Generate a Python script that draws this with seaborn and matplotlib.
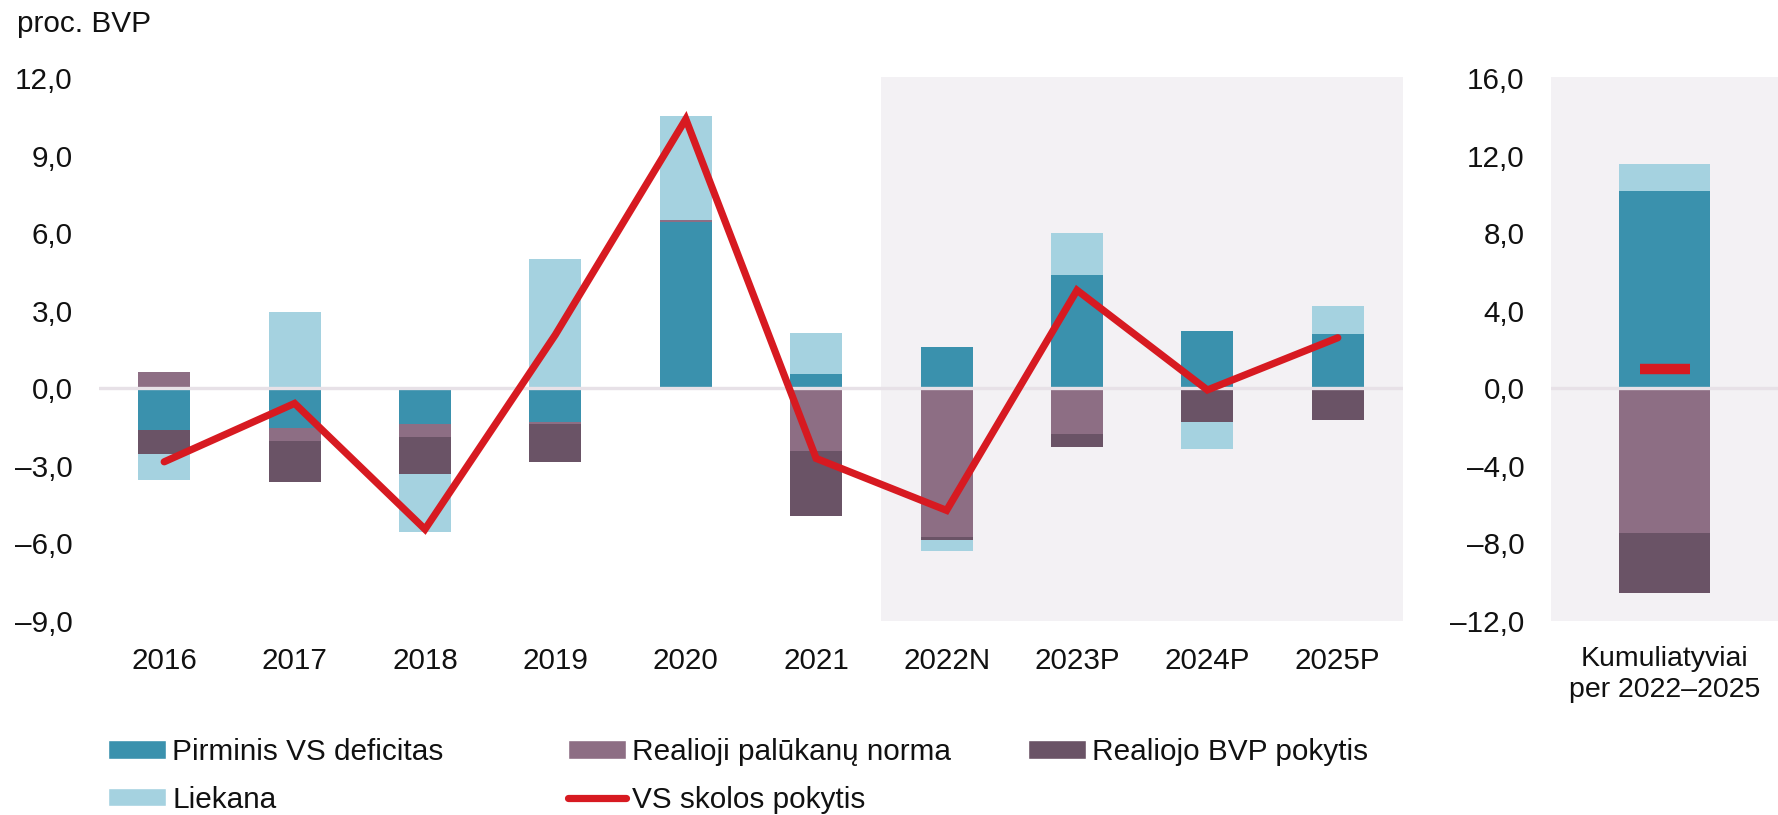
import numpy as np
import matplotlib
matplotlib.use("Agg")
import matplotlib.pyplot as plt
from matplotlib.ticker import FixedLocator, FuncFormatter
from matplotlib.patches import Patch
from matplotlib.lines import Line2D
import seaborn as sns

# ---------------- data ----------------
categories = ['2016', '2017', '2018', '2019', '2020', '2021', '2022N', '2023P', '2024P', '2025P']
primary_deficit = [-1.60, -1.52, -1.38, -1.31, 6.44, 0.54, 1.60, 4.37, 2.22, 2.09]
real_interest = [0.62, -0.50, -0.51, -0.08, 0.06, -2.42, -5.76, -1.78, 0.0, 0.0]
real_gdp_growth = [-0.95, -1.59, -1.43, -1.45, 0.0, -2.50, -0.12, -0.49, -1.31, -1.24]
residual = [-0.98, 2.96, -2.22, 4.99, 4.04, 1.61, -0.41, 1.66, -1.03, 1.11]
debt_change = [-2.84, -0.58, -5.45, 2.08, 10.42, -2.71, -4.72, 3.80, -0.06, 1.96]

cum_category = ['Kumuliatyviai\nper 2022–2025']
cum_primary = [10.17]
cum_interest = [-7.47]
cum_growth = [-3.09]
cum_residual = [1.37]
cum_debt = [0.98]

left_ticks = [-9, -6, -3, 0, 3, 6, 9, 12]
right_ticks = [-12, -8, -4, 0, 4, 8, 12, 16]

labels = ['Pirminis VS deficitas', 'Realioji palūkanų norma', 'Realiojo BVP pokytis',
          'Liekana', 'VS skolos pokytis']

# ---------------- style ----------------
C_TEAL = '#3A91AD'
C_PURPLE = '#8D6E84'
C_DARK = '#6A5366'
C_LIGHT = '#A5D2E0'
C_RED = '#D71A21'
C_SHADE = '#F3F1F4'
C_ZERO = '#E7E1E7'

sns.set_theme(style='white')
plt.rcParams['font.family'] = ['Liberation Sans', 'DejaVu Sans']
FS = 21.3
FS_LEG = 21.4

W, H = 1778, 815
fig = plt.figure(figsize=(W / 100, H / 100), dpi=100)
ax = fig.add_axes([99 / W, 1 - 621 / H, (1403 - 99) / W, (621 - 77) / H])
axr = fig.add_axes([1551 / W, 1 - 621 / H, (1778 - 1551) / W, (621 - 77) / H])


def stacked(axis, cats, series, colors, width):
    pos_base = np.zeros(len(cats))
    neg_base = np.zeros(len(cats))
    for vals, col in zip(series, colors):
        v = np.asarray(vals, dtype=float)
        bottom = np.where(v >= 0, pos_base, neg_base)
        sns.barplot(x=cats, y=v, bottom=bottom, color=col, width=width,
                    saturation=1, linewidth=0, order=cats, ax=axis, zorder=2)
        pos_base = pos_base + np.where(v > 0, v, 0)
        neg_base = neg_base + np.where(v < 0, v, 0)


fmt = FuncFormatter(lambda v, p: f"{v:.1f}".replace('.', ',').replace('-', '–'))

# ---------- left panel ----------
stacked(ax, categories,
        [primary_deficit, real_interest, real_gdp_growth, residual],
        [C_TEAL, C_PURPLE, C_DARK, C_LIGHT], 0.40)
ax.axvspan(5.5, 9.5, color=C_SHADE, zorder=0, lw=0)
ax.axhline(0, color=C_ZERO, lw=2.4, zorder=3)
sns.lineplot(x=np.arange(len(categories)), y=debt_change, color=C_RED, lw=5.2,
             ax=ax, zorder=4, solid_capstyle='round', solid_joinstyle='miter', sort=False)
ax.set_xlim(-0.5, 9.5)
ax.set_ylim(-9, 12.05)
ax.yaxis.set_major_locator(FixedLocator(left_ticks))
ax.yaxis.set_major_formatter(fmt)

# ---------- right panel ----------
axr.set_facecolor(C_SHADE)
stacked(axr, cum_category,
        [cum_primary, cum_interest, cum_growth, cum_residual],
        [C_TEAL, C_PURPLE, C_DARK, C_LIGHT], 0.405)
axr.axhline(0, color=C_ZERO, lw=2.4, zorder=3)
sns.scatterplot(x=[0], y=cum_debt, marker='_', s=36 ** 2, linewidth=7.5,
                color=C_RED, ax=axr, zorder=4)
axr.set_xlim(-0.5, 0.5)
axr.set_ylim(-12, 16.05)
axr.yaxis.set_major_locator(FixedLocator(right_ticks))
axr.yaxis.set_major_formatter(fmt)

for a in (ax, axr):
    for s in a.spines.values():
        s.set_visible(False)
    a.set_xlabel('')
    a.set_ylabel('')
    a.tick_params(axis='y', length=0, pad=19, labelsize=FS, colors='#111111')
    a.tick_params(axis='x', length=0, pad=19, labelsize=FS, colors='#111111')
    a.grid(False)
axr.tick_params(axis='x', labelsize=20.5, pad=18)
for t in axr.get_xticklabels():
    t.set_linespacing(1.25)
ax.set_facecolor('white')

fig.text(17 / W, 1 - 10 / H, 'proc. BVP', fontsize=FS_LEG, va='top', ha='left', color='#111111')

# ---------- legend ----------
handles = [Patch(facecolor=C_TEAL), Patch(facecolor=C_PURPLE), Patch(facecolor=C_DARK),
           Patch(facecolor=C_LIGHT), Line2D([], [], color=C_RED, lw=5.2, solid_capstyle='round')]
groups = [([0, 3], 108), ([1, 4], 568), ([2], 1028)]
leg_kw = dict(loc='upper left', frameon=False, fontsize=FS_LEG, handlelength=1.96,
              handleheight=0.57, handletextpad=0.2, labelspacing=0.66, borderpad=0,
              borderaxespad=0, labelcolor='#111111')
for idx, xpix in groups:
    fig.legend([handles[i] for i in idx], [labels[i] for i in idx],
               bbox_to_anchor=(xpix / W, 1 - 738 / H), **leg_kw)

fig.savefig('out.png', dpi=100)
